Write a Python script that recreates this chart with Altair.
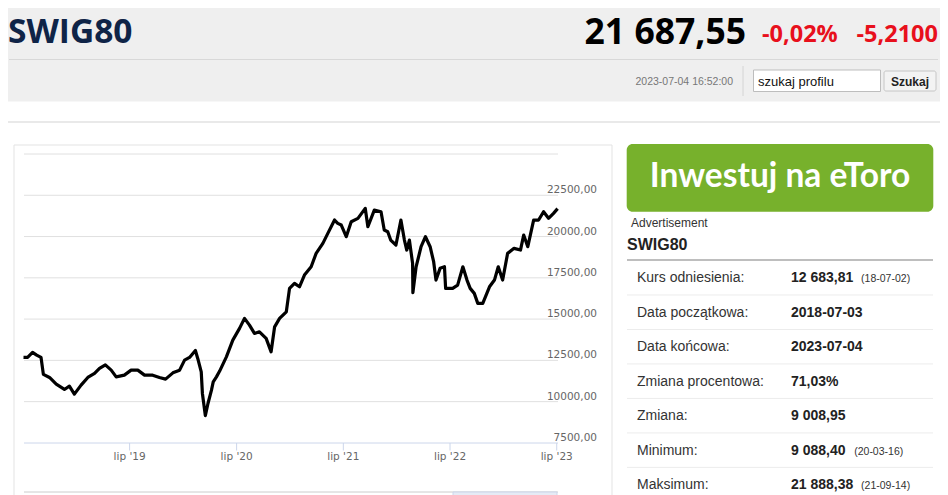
import altair as alt
import pandas as pd

# ---------------- data ----------------
dates = [
    "2018-07-03", "2018-07-17", "2018-08-03", "2018-08-17", "2018-09-01", "2018-09-09",
    "2018-09-30", "2018-10-23", "2018-11-20", "2018-12-07", "2018-12-24", "2019-01-16",
    "2019-02-08", "2019-03-03", "2019-03-20", "2019-04-09", "2019-04-29", "2019-05-16",
    "2019-06-13", "2019-07-06", "2019-07-29", "2019-08-21", "2019-09-18", "2019-10-11",
    "2019-11-01", "2019-11-26", "2019-12-19", "2020-01-05", "2020-01-22", "2020-02-11",
    "2020-02-19", "2020-03-02", "2020-03-06", "2020-03-16", "2020-03-25", "2020-04-06",
    "2020-04-12", "2020-04-23", "2020-05-04", "2020-05-27", "2020-06-18", "2020-07-11",
    "2020-07-28", "2020-08-14", "2020-08-31", "2020-09-17", "2020-10-10", "2020-10-27",
    "2020-11-08", "2020-11-25", "2020-12-18", "2020-12-29", "2021-01-15", "2021-02-01",
    "2021-02-18", "2021-03-13", "2021-03-30", "2021-04-22", "2021-05-09", "2021-06-01",
    "2021-06-12", "2021-06-24", "2021-07-11", "2021-07-28", "2021-08-20", "2021-09-14",
    "2021-09-23", "2021-10-15", "2021-11-07", "2021-11-18", "2021-11-30", "2021-12-10",
    "2021-12-28", "2022-01-14", "2022-01-26", "2022-02-03", "2022-02-12", "2022-02-23",
    "2022-02-24", "2022-03-07", "2022-03-24", "2022-04-08", "2022-04-24", "2022-05-06",
    "2022-05-14", "2022-05-28", "2022-06-12", "2022-06-16", "2022-07-10", "2022-07-27",
    "2022-08-14", "2022-08-28", "2022-09-08", "2022-09-22", "2022-10-04", "2022-10-21",
    "2022-11-13", "2022-11-30", "2022-12-13", "2022-12-28", "2023-01-14", "2023-02-05",
    "2023-02-27", "2023-03-10", "2023-03-24", "2023-04-13", "2023-04-30", "2023-05-17",
    "2023-06-03", "2023-06-20", "2023-07-04",
]
values = [
    12684, 12680, 12980, 12816, 12677, 11650,
    11464, 11058, 10737, 10937, 10452, 10998,
    11464, 11707, 12010, 12228, 11907, 11501,
    11604, 11907, 11907, 11604, 11604, 11464,
    11361, 11743, 11907, 12513, 12677, 13100,
    12616, 11804, 10495, 9150, 9888, 10695,
    11198, 11501, 11850, 12713, 13726, 14435,
    15041, 14635, 14132, 14229, 13829, 13016,
    14532, 15041, 15441, 16860, 17163, 16957,
    17666, 18169, 18981, 19588, 20194, 21000,
    20800, 20697, 19990, 20897, 21103, 21709,
    20594, 21600, 21503, 20394, 20290, 19788,
    19486, 21000, 19788, 19182, 19788, 18375,
    16600, 18169, 19384, 19990, 19384, 18476,
    17363, 18072, 18169, 16860, 16860, 17060,
    18169, 17363, 16860, 16557, 15950, 15950,
    16957, 17363, 18169, 17363, 18981, 19285,
    19182, 20091, 19384, 21000, 21000, 21503,
    21103, 21406, 21688,
]

y_ticks = [7500, 10000, 12500, 15000, 17500, 20000, 22500, 25000]
y_tick_labels = ["7500,00", "10000,00", "12500,00", "15000,00", "17500,00", "20000,00", "22500,00"]
x_tick_dates = ["2019-07-01", "2020-07-01", "2021-07-01", "2022-07-01", "2023-07-01"]
x_tick_labels = ["lip '19", "lip '20", "lip '21", "lip '22", "lip '23"]

name = "SWIG80"
last_value = "21 687,55"
change_pct = "-0,02%"
change_abs = "-5,2100"
timestamp = "2023-07-04 16:52:00"
search_placeholder = "szukaj profilu"
search_button = "Szukaj"
ad_text = "Inwestuj na eToro"
ad_label = "Advertisement"

row_labels = ["Kurs odniesienia:", "Data początkowa:", "Data końcowa:", "Zmiana procentowa:",
              "Zmiana:", "Minimum:", "Maksimum:"]
row_values = ["12 683,81", "2018-07-03", "2023-07-04", "71,03%", "9 008,95", "9 088,40", "21 888,38"]
row_notes = ["(18-07-02)", "", "", "", "", "(20-03-16)", "(21-09-14)"]

# ---------------- layout helpers ----------------
W, H = 932, 487
OX, OY = 8, 8


def px(x):
    return x - OX


def py(y):
    return y - OY


one = pd.DataFrame({"k": [0]})


def text(txt, x, y, size, color, weight="normal", align="left", font="Liberation Sans"):
    return alt.Chart(one).mark_text(
        text=txt, align=align, baseline="alphabetic", font=font,
        fontSize=size, fontWeight=weight, color=color,
    ).encode(x=alt.value(px(x)), y=alt.value(py(y)))


def box(x1, y1, x2, y2, fill="white", stroke="white", sw=0, radius=0, fop=1):
    return alt.Chart(one).mark_rect(
        fill=fill, fillOpacity=fop, stroke=stroke, strokeWidth=sw, cornerRadius=radius,
    ).encode(x=alt.value(px(x1)), x2=alt.value(px(x2)), y=alt.value(py(y1)), y2=alt.value(py(y2)))


def hline(x1, x2, y, color, sw=1):
    return alt.Chart(one).mark_rule(color=color, strokeWidth=sw).encode(
        x=alt.value(px(x1)), x2=alt.value(px(x2)), y=alt.value(py(y)))


def vline(x, y1, y2, color, sw=1):
    return alt.Chart(one).mark_rule(color=color, strokeWidth=sw).encode(
        x=alt.value(px(x)), y=alt.value(py(y1)), y2=alt.value(py(y2)))


RED = "#e8101c"
HF = "Open Sans"

# ---------------- header ----------------
header = [
    box(0, 0, 948, 101.5, fill="#efefef"),
    hline(9, 938, 59.5, "#d8d8d8"),
    text(name, 8, 42.5, 33.5, "#0f2447", weight="bold", font=HF),
    text(last_value, 746, 43.5, 35.5, "#000000", weight="bold", align="right", font=HF),
    text(change_pct, 762, 42, 23.5, RED, weight="bold", font=HF),
    text(change_abs, 938, 42, 23.5, RED, weight="bold", align="right", font=HF),
    text(timestamp, 733, 85, 10.5, "#777777", align="right"),
    vline(743, 66, 96, "#d4d4d4"),
    box(753.5, 70, 880.5, 91.5, fill="white", stroke="#bdbdbd", sw=1),
    text(search_placeholder, 758, 86, 13, "#111111"),
    box(884, 71, 936, 91, fill="#f3f3f3", stroke="#c6c6c6", sw=1, radius=2),
    text(search_button, 910, 86, 12, "#222222", weight="bold", align="center"),
    hline(0, 946, 122, "#e9e9e9", sw=2),
    vline(945, 122, 500, "#e9e9e9", sw=2),
    box(14, 145, 612, 520, fill="white", fop=0, stroke="#e3e3e3", sw=1),
]

# ---------------- chart ----------------
X_SCALE = alt.Scale(
    type="utc",
    domain=[alt.DateTime(year=2018, month=7, date=3, utc=True),
            alt.DateTime(year=2023, month=7, date=4, utc=True)],
    range=[px(23.5), px(557.6)], nice=False,
)
Y_SCALE = alt.Scale(domain=[7500, 25000], range=[py(442.9), py(154)], nice=False, zero=False)

df = pd.DataFrame({"date": dates, "value": values})
grid_df = pd.DataFrame({"v": y_ticks[1:]})
ylab_df = pd.DataFrame({"v": y_ticks[:-1], "t": y_tick_labels})
xt_df = pd.DataFrame({"d": x_tick_dates, "t": x_tick_labels})

grid = alt.Chart(grid_df).mark_rule(color="#e0e0e0", strokeWidth=1).encode(
    y=alt.Y("v:Q", scale=Y_SCALE, axis=None), x=alt.value(px(24)), x2=alt.value(px(558)))
ylabels = alt.Chart(ylab_df).mark_text(
    align="right", baseline="alphabetic", dy=-2, font="DejaVu Sans", fontSize=10.5, color="#666666"
).encode(y=alt.Y("v:Q", scale=Y_SCALE, axis=None), x=alt.value(px(597)), text="t:N")
xaxis = hline(24, 558, 443, "#ccd6eb")
xticks = alt.Chart(xt_df).mark_rule(color="#ccd6eb", strokeWidth=1).encode(
    x=alt.X("d:T", scale=X_SCALE, axis=None), y=alt.value(py(443)), y2=alt.value(py(450.5)))
xlabels = alt.Chart(xt_df).mark_text(
    align="center", baseline="alphabetic", font="DejaVu Sans", fontSize=10.5, color="#666666"
).encode(x=alt.X("d:T", scale=X_SCALE, axis=None), y=alt.value(py(459.5)), text="t:N")
nav = [
    hline(24, 558, 492, "#cccccc"),
    box(453, 492, 557, 500, fill="#e6ebf5", stroke="#ccd6eb", sw=1),
]
line = alt.Chart(df).mark_line(color="#000000", strokeWidth=3.2, strokeJoin="round").encode(
    x=alt.X("date:T", scale=X_SCALE, axis=None), y=alt.Y("value:Q", scale=Y_SCALE, axis=None))

# ---------------- right panel ----------------
ROW_SCALE = alt.Scale(domain=[0, 6], range=[py(282.4), py(489.3)], nice=False, zero=False)
rows_df = pd.DataFrame({"i": list(range(len(row_labels))), "label": row_labels,
                        "val": row_values, "note": row_notes})
sep_df = pd.DataFrame({"i": list(range(len(row_labels) - 1))})

panel = [
    box(626.7, 144, 933.3, 211.7, fill="#77b12c", radius=6),
    text(ad_text, 780, 186.5, 33.5, "#ffffff", weight="bold", align="center", font="Lato"),
    text(ad_label, 631, 226.5, 12, "#333333"),
    text(name, 627, 250, 16, "#222222", weight="bold"),
    hline(627, 933, 260, "#a8a8a8", sw=1.5),
    alt.Chart(sep_df).transform_calculate(s="datum.i + 0.365").mark_rule(
        color="#ececec", strokeWidth=1).encode(
        y=alt.Y("s:Q", scale=ROW_SCALE, axis=None), x=alt.value(px(627)), x2=alt.value(px(933))),
    alt.Chart(rows_df).mark_text(align="left", baseline="alphabetic", font="Liberation Sans",
                                 fontSize=14, color="#333333").encode(
        x=alt.value(px(637)), y=alt.Y("i:Q", scale=ROW_SCALE, axis=None), text="label:N"),
    alt.Chart(rows_df).mark_text(align="left", baseline="alphabetic", font="Liberation Sans",
                                 fontSize=14, fontWeight="bold", color="#222222").encode(
        x=alt.value(px(791)), y=alt.Y("i:Q", scale=ROW_SCALE, axis=None), text="val:N"),
    alt.Chart(rows_df).transform_calculate(nx=f"{px(791)} + 6.9 * length(datum.val) + 8").mark_text(
        align="left", baseline="alphabetic", font="Liberation Sans", fontSize=10.5, color="#333333"
    ).encode(x=alt.X("nx:Q", scale=None), y=alt.Y("i:Q", scale=ROW_SCALE, axis=None), text="note:N"),
]

layers = header + [grid, xaxis, xticks, xlabels, ylabels] + nav + [line] + panel

chart = alt.layer(*layers).resolve_scale(x="independent", y="independent").properties(
    width=W, height=H, padding=0, autosize=alt.AutoSizeParams(type="none"), background="white",
).configure_view(strokeWidth=0)

chart.save("out.html", embed_options={"renderer": "svg", "actions": False})
